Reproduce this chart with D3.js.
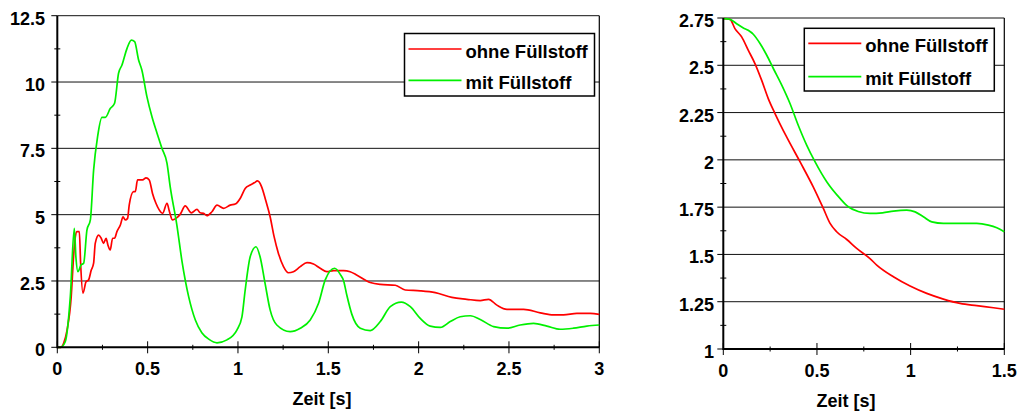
<!DOCTYPE html>
<html>
<head>
<meta charset="utf-8">
<script src="https://cdn.jsdelivr.net/npm/d3@7/dist/d3.min.js"></script>
<style>
  html, body { margin: 0; padding: 0; background: #fff; }
  svg { display: block; }
  text { font-family: "Liberation Sans", Arial, sans-serif; font-weight: bold; fill: #000; }
</style>
</head>
<body>
<svg id="chart" width="1018" height="414"></svg>
<script>
// Series names
const seriesNames = ["ohne Füllstoff", "mit Füllstoff"];
const seriesColors = ["#ff0000", "#00f000"];

// Left panel: force over time, 0–3 s
const leftOhne = [
  [0,0],[0.02,0],[0.035,0.15],[0.054,0.65],[0.077,1.91],[0.09,3.42],[0.1,4.17],[0.109,4.36],[0.122,4.36],
  [0.129,3.17],[0.142,2.04],[0.159,2.47],[0.173,2.54],[0.188,2.91],[0.201,3.17],[0.21,3.92],[0.229,4.23],
  [0.243,4.11],[0.256,3.92],[0.27,4.11],[0.28,3.86],[0.293,3.67],[0.306,4.11],[0.317,4.11],[0.33,4.36],
  [0.349,4.61],[0.364,4.92],[0.376,4.8],[0.389,4.86],[0.398,5.36],[0.422,5.87],[0.432,5.87],[0.444,6.31],
  [0.472,6.31],[0.491,6.39],[0.509,6.31],[0.527,5.8],[0.546,5.43],[0.564,5.18],[0.583,5.05],[0.607,5.43],
  [0.621,5.11],[0.638,4.8],[0.657,4.86],[0.681,5.02],[0.708,5.33],[0.742,5.07],[0.773,5.2],[0.791,5.07],
  [0.81,5.05],[0.828,4.96],[0.856,5.11],[0.884,5.36],[0.921,5.24],[0.957,5.36],[0.985,5.4],[1.013,5.62],
  [1.04,5.99],[1.068,6.12],[1.09,6.2],[1.108,6.27],[1.131,6.05],[1.153,5.55],[1.178,4.92],[1.2,4.17],
  [1.224,3.54],[1.252,3.04],[1.279,2.81],[1.307,2.85],[1.345,3.04],[1.382,3.19],[1.418,3.14],[1.455,2.98],
  [1.492,2.85],[1.529,2.89],[1.584,2.89],[1.621,2.85],[1.659,2.72],[1.732,2.44],[1.788,2.37],[1.871,2.34],
  [1.926,2.16],[2.009,2.13],[2.092,2.06],[2.184,1.88],[2.267,1.81],[2.341,1.76],[2.387,1.81],[2.433,1.59],
  [2.489,1.43],[2.581,1.43],[2.673,1.3],[2.747,1.22],[2.802,1.22],[2.876,1.28],[2.95,1.28],[3.0,1.24]
];
const leftMit = [
  [0,0],[0.017,0],[0.044,0.21],[0.072,1.9],[0.094,4.48],[0.103,3.4],[0.114,2.85],[0.131,3.1],[0.146,3.17],
  [0.164,4.42],[0.183,4.8],[0.201,6.68],[0.223,7.94],[0.247,8.67],[0.266,8.67],[0.293,9.0],[0.317,9.2],
  [0.339,10.33],[0.358,10.64],[0.386,11.27],[0.41,11.58],[0.428,11.52],[0.45,10.83],[0.468,10.45],
  [0.496,9.45],[0.524,8.69],[0.552,8.07],[0.579,7.5],[0.607,6.94],[0.625,6.05],[0.662,4.6],[0.69,3.25],
  [0.727,1.91],[0.764,1.03],[0.8,0.55],[0.84,0.3],[0.884,0.17],[0.939,0.28],[0.994,0.65],[1.022,1.15],
  [1.04,2.16],[1.068,3.42],[1.1,3.79],[1.122,3.42],[1.15,2.41],[1.178,1.41],[1.215,0.84],[1.289,0.59],
  [1.345,0.72],[1.4,1.03],[1.446,1.66],[1.483,2.54],[1.535,2.98],[1.566,2.75],[1.585,2.5],[1.603,1.95],
  [1.63,1.25],[1.677,0.72],[1.732,0.63],[1.788,0.97],[1.843,1.53],[1.904,1.7],[1.954,1.53],[2.009,1.09],
  [2.064,0.8],[2.12,0.75],[2.175,0.97],[2.23,1.15],[2.286,1.19],[2.341,1.05],[2.415,0.78],[2.489,0.72],
  [2.562,0.84],[2.636,0.9],[2.71,0.8],[2.784,0.68],[2.857,0.72],[2.931,0.8],[3.0,0.84]
];

// Right panel: 0–1.5 s
const rightOhne = [
  [0,2.747],[0.036,2.743],[0.062,2.694],[0.098,2.65],[0.133,2.58],[0.169,2.509],[0.205,2.42],[0.24,2.324],
  [0.276,2.245],[0.338,2.121],[0.41,1.989],[0.48,1.857],[0.534,1.743],[0.57,1.664],[0.605,1.62],[0.659,1.579],
  [0.712,1.532],[0.783,1.478],[0.819,1.444],[0.908,1.382],[0.997,1.333],[1.086,1.294],[1.175,1.264],
  [1.264,1.241],[1.353,1.229],[1.442,1.218],[1.5,1.21]
];
const rightMit = [
  [0,2.747],[0.036,2.743],[0.071,2.72],[0.107,2.697],[0.133,2.685],[0.16,2.664],[0.196,2.615],[0.232,2.553],
  [0.267,2.483],[0.312,2.395],[0.356,2.298],[0.4,2.183],[0.445,2.078],[0.49,1.989],[0.552,1.884],[0.623,1.796],
  [0.667,1.752],[0.72,1.727],[0.783,1.717],[0.85,1.72],[0.908,1.729],[0.979,1.734],[1.024,1.725],[1.068,1.699],
  [1.113,1.672],[1.175,1.664],[1.264,1.664],[1.353,1.664],[1.415,1.655],[1.46,1.641],[1.5,1.62]
];

// Tick values
const leftXTicks = [0, 0.5, 1, 1.5, 2, 2.5, 3];
const leftYTicks = [0, 2.5, 5, 7.5, 10, 12.5];
const rightXTicks = [0, 0.5, 1, 1.5];
const rightYTicks = [1, 1.25, 1.5, 1.75, 2, 2.25, 2.5, 2.75];
const xTitle = "Zeit [s]";

const svg = d3.select("#chart");

function midpoints(arr) {
  const out = [];
  for (let i = 0; i < arr.length - 1; i++) out.push((arr[i] + arr[i + 1]) / 2);
  return out;
}

function drawPanel(p) {
  const x = d3.scaleLinear().domain(p.xDomain).range([p.left, p.right]);
  const y = d3.scaleLinear().domain(p.yDomain).range([p.bottom, p.top]);
  const g = svg.append("g");

  // horizontal gridlines (top one doubles as the frame)
  g.selectAll("line.grid").data(p.yTicks.slice(1)).join("line")
    .attr("x1", p.left).attr("x2", p.right)
    .attr("y1", d => y(d)).attr("y2", d => y(d))
    .attr("stroke", "#111").attr("stroke-width", 1);

  // right frame
  g.append("line")
    .attr("x1", p.right).attr("x2", p.right)
    .attr("y1", p.top).attr("y2", p.bottom)
    .attr("stroke", "#000").attr("stroke-width", 1.2);

  // series
  const line = d3.line().x(d => x(d[0])).y(d => y(d[1])).curve(d3.curveMonotoneX);
  [p.ohne, p.mit].forEach((s, i) => {
    g.append("path").datum(s)
      .attr("d", line)
      .attr("fill", "none")
      .attr("stroke", seriesColors[i])
      .attr("stroke-width", 1.7)
      .attr("stroke-linejoin", "round");
  });

  // axes lines
  g.append("line")
    .attr("x1", p.left).attr("x2", p.left)
    .attr("y1", p.top).attr("y2", p.bottom + 1)
    .attr("stroke", "#000").attr("stroke-width", 2);
  g.append("line")
    .attr("x1", p.left).attr("x2", p.right)
    .attr("y1", p.bottom).attr("y2", p.bottom)
    .attr("stroke", "#000").attr("stroke-width", 2);

  // y ticks: major to the left, minor crossing the axis
  g.selectAll("line.ymaj").data(p.yTicks).join("line")
    .attr("x1", p.left - 6).attr("x2", p.left)
    .attr("y1", d => y(d)).attr("y2", d => y(d))
    .attr("stroke", "#000").attr("stroke-width", 1);
  g.selectAll("line.ymin").data(midpoints(p.yTicks)).join("line")
    .attr("x1", p.left - 3).attr("x2", p.left + 3)
    .attr("y1", d => y(d)).attr("y2", d => y(d))
    .attr("stroke", "#000").attr("stroke-width", 1);

  // x ticks: major and minor both crossing the axis
  g.selectAll("line.xmaj").data(p.xTicks).join("line")
    .attr("x1", d => x(d)).attr("x2", d => x(d))
    .attr("y1", p.bottom - 6).attr("y2", p.bottom + 6)
    .attr("stroke", "#000").attr("stroke-width", 1);
  g.selectAll("line.xmin").data(midpoints(p.xTicks)).join("line")
    .attr("x1", d => x(d)).attr("x2", d => x(d))
    .attr("y1", p.bottom - 2.5).attr("y2", p.bottom + 2.5)
    .attr("stroke", "#000").attr("stroke-width", 1);

  // tick labels
  g.selectAll("text.yl").data(p.yTicks).join("text")
    .attr("x", p.labelRight).attr("y", d => y(d) + 9)
    .attr("text-anchor", "end").attr("font-size", 18)
    .text(d => String(d));
  g.selectAll("text.xl").data(p.xTicks).join("text")
    .attr("x", d => x(d)).attr("y", p.bottom + 28)
    .attr("text-anchor", "middle").attr("font-size", 18)
    .text(d => String(d));

  // axis title
  g.append("text")
    .attr("x", p.titleX).attr("y", p.titleY)
    .attr("text-anchor", "middle").attr("font-size", 18)
    .text(xTitle);

  // legend
  const lg = g.append("g");
  lg.append("rect")
    .attr("x", p.legend.x).attr("y", p.legend.y)
    .attr("width", p.legend.w).attr("height", p.legend.h)
    .attr("fill", "#fff").attr("stroke", "#000").attr("stroke-width", 1.5);
  seriesNames.forEach((name, i) => {
    const ly = p.legend.rows[i];
    lg.append("line")
      .attr("x1", p.legend.x + 4).attr("x2", p.legend.x + 57)
      .attr("y1", ly).attr("y2", ly)
      .attr("stroke", seriesColors[i]).attr("stroke-width", 1.7);
    lg.append("text")
      .attr("x", p.legend.x + 61).attr("y", ly + 8.5)
      .attr("font-size", 18.5)
      .text(name);
  });
}

drawPanel({
  xDomain: [0, 3], yDomain: [0, 12.5],
  left: 57.3, right: 599.3, top: 15.7, bottom: 347.3,
  xTicks: leftXTicks, yTicks: leftYTicks,
  ohne: leftOhne, mit: leftMit,
  labelRight: 45, titleX: 322, titleY: 405,
  legend: { x: 404.5, y: 33.5, w: 190, h: 62.5, rows: [49, 80.3] }
});

drawPanel({
  xDomain: [0, 1.5], yDomain: [1, 2.75],
  left: 723.3, right: 1004.3, top: 18, bottom: 349,
  xTicks: rightXTicks, yTicks: rightYTicks,
  ohne: rightOhne, mit: rightMit,
  labelRight: 714, titleX: 846, titleY: 407,
  legend: { x: 804.3, y: 28.3, w: 190, h: 62.7, rows: [43.3, 76.7] }
});
</script>
</body>
</html>
